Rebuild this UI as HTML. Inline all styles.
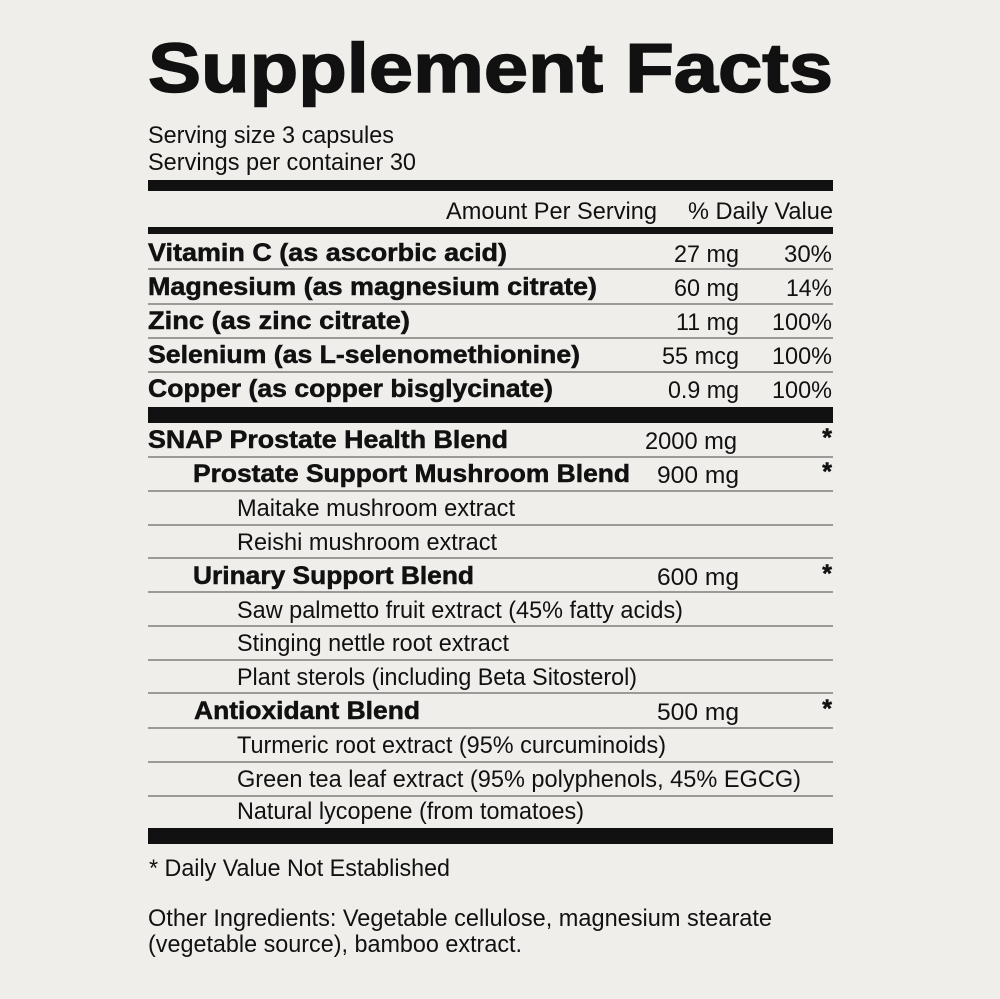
<!DOCTYPE html>
<html><head><meta charset="utf-8"><style>
html,body{margin:0;padding:0;background:#efeeea;}
svg{display:block}
text{font-family:"Liberation Sans",Arial,sans-serif;fill:#111;}
.r{font-size:24px;}
.bb{font-size:25px;font-weight:bold;stroke:#111;stroke-width:0.5;}
</style></head><body>
<svg width="1000" height="999" viewBox="0 0 1000 999" xmlns="http://www.w3.org/2000/svg">
<rect width="1000" height="999" fill="#efeeea"/>
<text x="148" y="92" font-size="70" font-weight="bold" textLength="685" lengthAdjust="spacingAndGlyphs" stroke="#111" stroke-width="1.5">Supplement Facts</text>
<text class="r" x="148" y="143" textLength="246" lengthAdjust="spacingAndGlyphs">Serving size 3 capsules</text>
<text class="r" x="148" y="170" textLength="268" lengthAdjust="spacingAndGlyphs">Servings per container 30</text>
<rect x="148" y="180" width="685" height="11" fill="#111"/>
<text class="r" x="446" y="219" textLength="211" lengthAdjust="spacingAndGlyphs">Amount Per Serving</text>
<text class="r" x="688" y="219" textLength="145" lengthAdjust="spacingAndGlyphs">% Daily Value</text>
<rect x="148" y="227" width="685" height="7" fill="#111"/>
<g fill="#9a9a98">
<rect x="148" y="268" width="685" height="2"/>
<rect x="148" y="303" width="685" height="2"/>
<rect x="148" y="337" width="685" height="2"/>
<rect x="148" y="371" width="685" height="2"/>
<rect x="148" y="456" width="685" height="2"/>
<rect x="148" y="490" width="685" height="2"/>
<rect x="148" y="524" width="685" height="2"/>
<rect x="148" y="557" width="685" height="2"/>
<rect x="148" y="591" width="685" height="2"/>
<rect x="148" y="625" width="685" height="2"/>
<rect x="148" y="659" width="685" height="2"/>
<rect x="148" y="692" width="685" height="2"/>
<rect x="148" y="727" width="685" height="2"/>
<rect x="148" y="761" width="685" height="2"/>
<rect x="148" y="795" width="685" height="2"/>
</g>
<rect x="148" y="407" width="685" height="16" fill="#111"/>
<rect x="148" y="828" width="685" height="16" fill="#111"/>
<text class="bb" x="148" y="261" textLength="359" lengthAdjust="spacingAndGlyphs">Vitamin C (as ascorbic acid)</text>
<text class="bb" x="148" y="295" textLength="449" lengthAdjust="spacingAndGlyphs">Magnesium (as magnesium citrate)</text>
<text class="bb" x="148" y="329" textLength="262" lengthAdjust="spacingAndGlyphs">Zinc (as zinc citrate)</text>
<text class="bb" x="148" y="363" textLength="432" lengthAdjust="spacingAndGlyphs">Selenium (as L-selenomethionine)</text>
<text class="bb" x="148" y="397" textLength="405" lengthAdjust="spacingAndGlyphs">Copper (as copper bisglycinate)</text>
<text class="bb" x="148" y="448" textLength="360" lengthAdjust="spacingAndGlyphs">SNAP Prostate Health Blend</text>
<text class="bb" x="193" y="482" textLength="437" lengthAdjust="spacingAndGlyphs">Prostate Support Mushroom Blend</text>
<text class="bb" x="193" y="584" textLength="281" lengthAdjust="spacingAndGlyphs">Urinary Support Blend</text>
<text class="bb" x="194" y="719" textLength="226" lengthAdjust="spacingAndGlyphs">Antioxidant Blend</text>
<text class="r" x="674" y="262" textLength="65" lengthAdjust="spacingAndGlyphs">27 mg</text>
<text class="r" x="674" y="296" textLength="65" lengthAdjust="spacingAndGlyphs">60 mg</text>
<text class="r" x="676" y="330" textLength="63" lengthAdjust="spacingAndGlyphs">11 mg</text>
<text class="r" x="662" y="364" textLength="77" lengthAdjust="spacingAndGlyphs">55 mcg</text>
<text class="r" x="668" y="398" textLength="71" lengthAdjust="spacingAndGlyphs">0.9 mg</text>
<text class="r" x="784" y="262" textLength="48" lengthAdjust="spacingAndGlyphs">30%</text>
<text class="r" x="786" y="296" textLength="46" lengthAdjust="spacingAndGlyphs">14%</text>
<text class="r" x="772" y="330" textLength="60" lengthAdjust="spacingAndGlyphs">100%</text>
<text class="r" x="772" y="364" textLength="60" lengthAdjust="spacingAndGlyphs">100%</text>
<text class="r" x="772" y="398" textLength="60" lengthAdjust="spacingAndGlyphs">100%</text>
<text class="r" x="645" y="449" textLength="92" lengthAdjust="spacingAndGlyphs">2000 mg</text>
<text class="r" x="657" y="483" textLength="82" lengthAdjust="spacingAndGlyphs">900 mg</text>
<text class="r" x="657" y="585" textLength="82" lengthAdjust="spacingAndGlyphs">600 mg</text>
<text class="r" x="657" y="720" textLength="82" lengthAdjust="spacingAndGlyphs">500 mg</text>
<g text-anchor="end">
<text class="bb" x="832" y="446">*</text>
<text class="bb" x="832" y="480">*</text>
<text class="bb" x="832" y="582">*</text>
<text class="bb" x="832" y="717">*</text>
</g>
<text class="r" x="237" y="516" textLength="278" lengthAdjust="spacingAndGlyphs">Maitake mushroom extract</text>
<text class="r" x="237" y="550" textLength="260" lengthAdjust="spacingAndGlyphs">Reishi mushroom extract</text>
<text class="r" x="237" y="618" textLength="446" lengthAdjust="spacingAndGlyphs">Saw palmetto fruit extract (45% fatty acids)</text>
<text class="r" x="237" y="651" textLength="272" lengthAdjust="spacingAndGlyphs">Stinging nettle root extract</text>
<text class="r" x="237" y="685" textLength="400" lengthAdjust="spacingAndGlyphs">Plant sterols (including Beta Sitosterol)</text>
<text class="r" x="237" y="753" textLength="429" lengthAdjust="spacingAndGlyphs">Turmeric root extract (95% curcuminoids)</text>
<text class="r" x="237" y="787" textLength="564" lengthAdjust="spacingAndGlyphs">Green tea leaf extract (95% polyphenols, 45% EGCG)</text>
<text class="r" x="237" y="819" textLength="347" lengthAdjust="spacingAndGlyphs">Natural lycopene (from tomatoes)</text>
<text class="r" x="149" y="876" textLength="301" lengthAdjust="spacingAndGlyphs">* Daily Value Not Established</text>
<text class="r" x="148" y="926" textLength="624" lengthAdjust="spacingAndGlyphs">Other Ingredients: Vegetable cellulose, magnesium stearate</text>
<text class="r" x="148" y="952" textLength="374" lengthAdjust="spacingAndGlyphs">(vegetable source), bamboo extract.</text>
</svg>
</body></html>
